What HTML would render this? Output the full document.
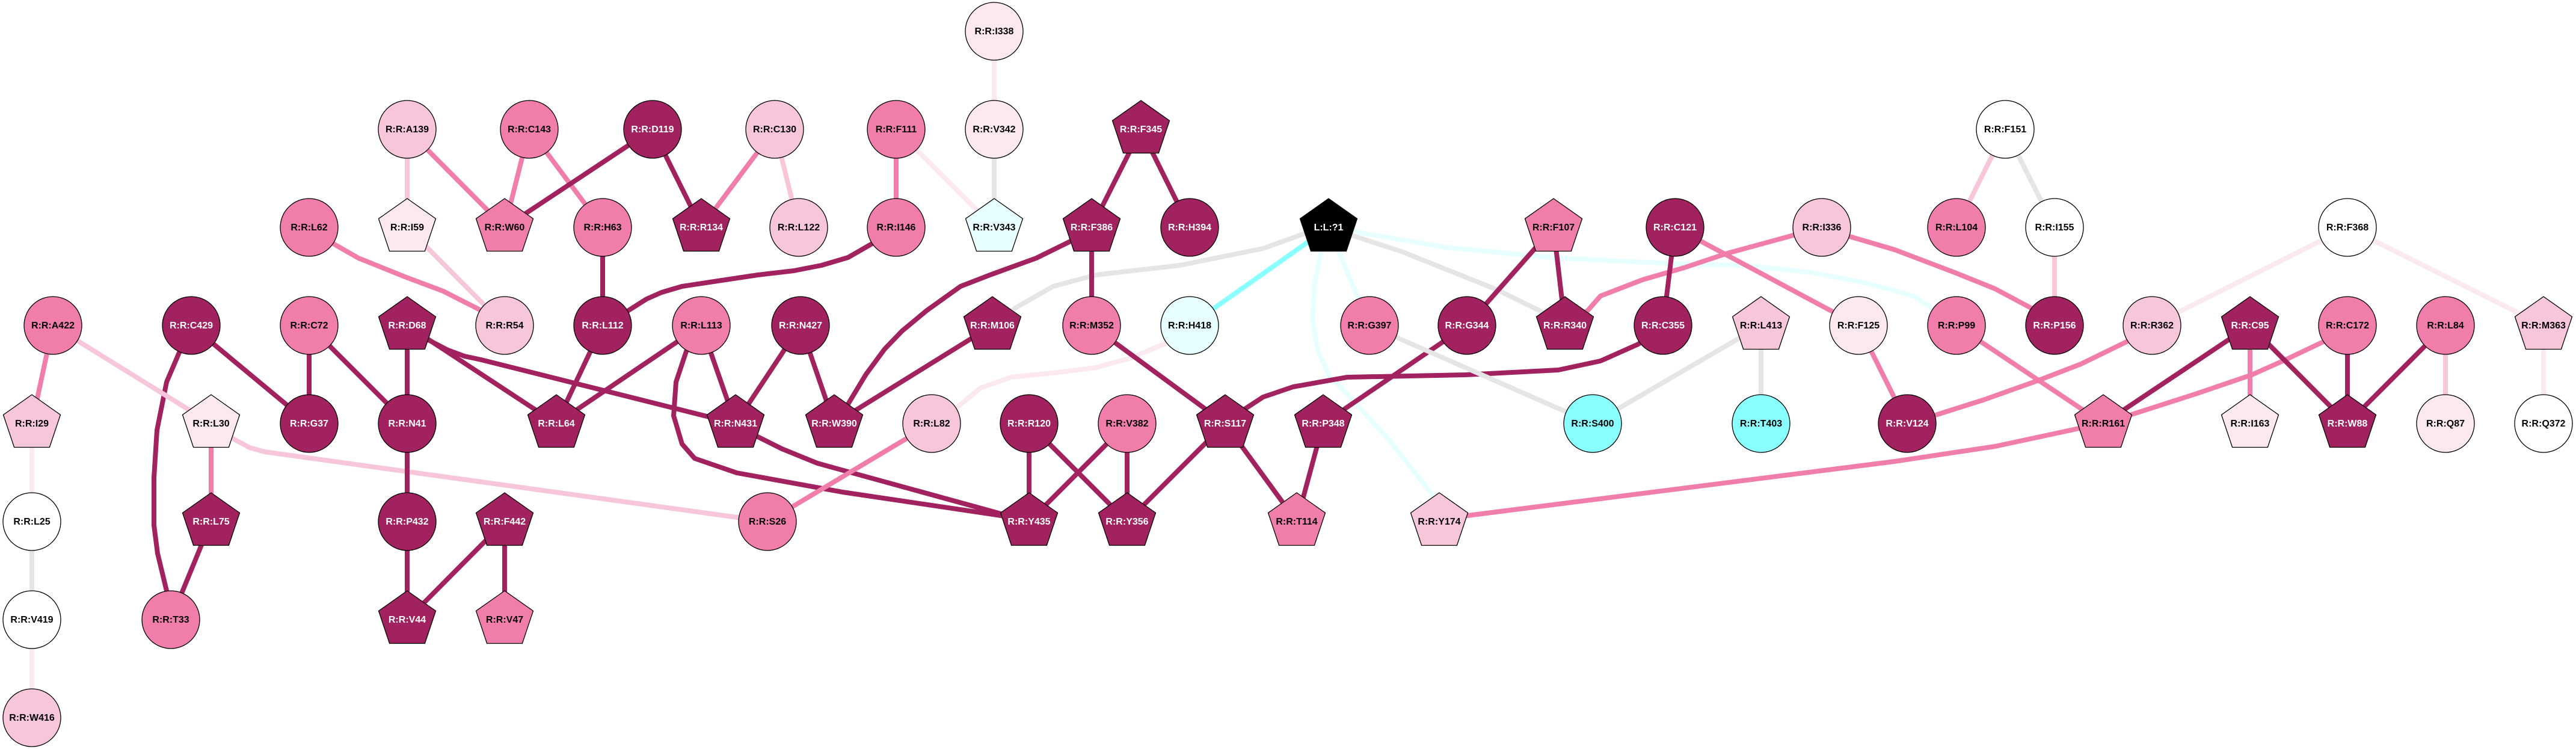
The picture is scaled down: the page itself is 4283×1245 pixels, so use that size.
<!DOCTYPE html>
<html><head><meta charset="utf-8">
<style>
html,body{margin:0;padding:0;background:#fff;}
svg{display:block;}
.D{fill:#A1225E}.M{fill:#F07DAA}.L{fill:#F8C6DB}.V{fill:#FCE8F1}.W{fill:#FFFFFF}.LC{fill:#E8FFFF}.C{fill:#89FFFF}.K{fill:#000}
circle,polygon{stroke:#000;stroke-width:1.3}
text{font-family:"Liberation Sans",Arial,sans-serif;font-weight:bold;font-size:16px;text-anchor:middle;fill:#000}
text.w{fill:#fff}
line,polyline{stroke-width:8;fill:none;stroke-linecap:butt;stroke-linejoin:round}
.eD{stroke:#A1225E}.eM{stroke:#F07DAA}.eL{stroke:#F8C6DB}.eV{stroke:#FCE8F1}.eG{stroke:#E5E5E5}.eC{stroke:#89FFFF}.eLC{stroke:#E8FFFF}
</style></head>
<body>
<svg width="4283" height="1245" viewBox="0 0 4283 1245" xmlns="http://www.w3.org/2000/svg">
<rect width="4283" height="1245" fill="#fff"/>
<g id="edges">
<polyline class="eLC" points="2209,378 2250,385 2410,412 2591,429 2800,439 2900,441 3012,453 3100,470 3150,483 3183,493 3213,513 3253,541"/>
<polyline class="eLC" points="2209,378 2196,420 2186,470 2182,530 2190,580 2210,625 2240,655 2310,732 2381,822 2393,867"/>
<line class="eLC" x1="2209" y1="378" x2="2277" y2="541"/>
<polyline class="eG" points="1650,541 1688,512 1751,476 1822,457 1962,441 2100,413 2167,389 2209,378"/>
<polyline class="eG" points="2209,378 2250,392 2330,418 2410,450 2490,482 2567,520 2602,541"/>
<polyline class="eV" points="1978,541 1935,572 1880,595 1822,611 1750,620 1681,627 1630,645 1594,675 1549,704"/>
<polyline class="eL" points="351,704 389,730 415,744 440,751 1276,867"/>
<polyline class="eD" points="318,541 298,586 277,635 261,715 256,794 256,873 262,920 270,953 277,982 284,1030"/>
<polyline class="eD" points="677,541 712,565 745,582 772,592 800,598 1223,704"/>
<polyline class="eM" points="514,378 554,405 596,429 673,460 737,484 796,514 839,541"/>
<polyline class="eD" points="1002,541 1045,516 1075,497 1100,486 1134,476 1200,466 1260,457 1320,450 1366,441 1410,428 1450,405 1490,378"/>
<polyline class="eD" points="1815,378 1780,401 1723,429 1646,457 1597,476 1541,516 1500,550 1471,580 1440,622 1408,675 1387,704"/>
<polyline class="eD" points="1166,541 1141,584 1124,635 1120,691 1134,738 1155,762 1225,786 1401,818 1664,857 1711,867"/>
<polyline class="eD" points="1223,704 1260,726 1300,746 1359,770 1664,854 1711,867"/>
<polyline class="eD" points="2037,704 2071,679 2100,660 2150,643 2240,627 2437,623 2591,615 2661,600 2724,572 2765,541"/>
<polyline class="eM" points="3029,378 2982,391 2872,421 2800,445 2731,465 2661,492 2640,516 2602,541"/>
<polyline class="eM" points="3029,378 3075,393 3150,415 3250,453 3317,480 3377,512 3416,541"/>
<polyline class="eM" points="3171,704 3218,690 3300,664 3390,632 3460,605 3538,567 3578,541"/>
<polyline class="eM" points="2393,867 2440,857 3150,767 3317,742 3457,712 3497,704"/>
<polyline class="eM" points="3903,541 3863,568 3800,598 3744,623 3650,655 3544,689 3497,704"/>
<line class="eM" x1="88" y1="541" x2="53" y2="704"/>
<line class="eL" x1="88" y1="541" x2="351" y2="704"/>
<line class="eV" x1="53" y1="704" x2="53" y2="867"/>
<line class="eG" x1="53" y1="867" x2="53" y2="1030"/>
<line class="eV" x1="53" y1="1030" x2="53" y2="1193"/>
<line class="eD" x1="318" y1="541" x2="514" y2="704"/>
<line class="eM" x1="351" y1="704" x2="351" y2="867"/>
<line class="eD" x1="351" y1="867" x2="284" y2="1030"/>
<line class="eD" x1="514" y1="541" x2="514" y2="704"/>
<line class="eD" x1="514" y1="541" x2="677" y2="704"/>
<line class="eD" x1="677" y1="541" x2="677" y2="704"/>
<line class="eD" x1="677" y1="541" x2="925" y2="704"/>
<line class="eD" x1="677" y1="704" x2="677" y2="867"/>
<line class="eD" x1="677" y1="867" x2="677" y2="1030"/>
<line class="eD" x1="839" y1="867" x2="677" y2="1030"/>
<line class="eD" x1="839" y1="867" x2="839" y2="1030"/>
<line class="eL" x1="677" y1="215" x2="677" y2="378"/>
<line class="eM" x1="677" y1="215" x2="839" y2="378"/>
<line class="eL" x1="677" y1="378" x2="839" y2="541"/>
<line class="eM" x1="880" y1="215" x2="839" y2="378"/>
<line class="eM" x1="880" y1="215" x2="1002" y2="378"/>
<line class="eD" x1="1085" y1="215" x2="839" y2="378"/>
<line class="eD" x1="1002" y1="378" x2="1002" y2="541"/>
<line class="eD" x1="1002" y1="541" x2="925" y2="704"/>
<line class="eD" x1="1166" y1="541" x2="925" y2="704"/>
<line class="eD" x1="1085" y1="215" x2="1166" y2="378"/>
<line class="eM" x1="1288" y1="215" x2="1166" y2="378"/>
<line class="eL" x1="1288" y1="215" x2="1328" y2="378"/>
<line class="eM" x1="1490" y1="215" x2="1490" y2="378"/>
<line class="eV" x1="1490" y1="215" x2="1653" y2="378"/>
<line class="eV" x1="1653" y1="52" x2="1653" y2="215"/>
<line class="eG" x1="1653" y1="215" x2="1653" y2="378"/>
<line class="eD" x1="1897" y1="215" x2="1815" y2="378"/>
<line class="eD" x1="1897" y1="215" x2="1978" y2="378"/>
<line class="eD" x1="1815" y1="378" x2="1815" y2="541"/>
<line class="eD" x1="1166" y1="541" x2="1223" y2="704"/>
<line class="eD" x1="1331" y1="541" x2="1223" y2="704"/>
<line class="eD" x1="1331" y1="541" x2="1387" y2="704"/>
<line class="eD" x1="1650" y1="541" x2="1387" y2="704"/>
<line class="eC" x1="1978" y1="541" x2="2209" y2="378"/>
<line class="eD" x1="1815" y1="541" x2="2037" y2="704"/>
<line class="eM" x1="1549" y1="704" x2="1276" y2="867"/>
<line class="eD" x1="1711" y1="704" x2="1711" y2="867"/>
<line class="eD" x1="1711" y1="704" x2="1874" y2="867"/>
<line class="eD" x1="1874" y1="704" x2="1711" y2="867"/>
<line class="eD" x1="1874" y1="704" x2="1874" y2="867"/>
<line class="eD" x1="2037" y1="704" x2="1874" y2="867"/>
<line class="eD" x1="2037" y1="704" x2="2156" y2="867"/>
<line class="eD" x1="2439" y1="541" x2="2200" y2="704"/>
<line class="eD" x1="2583" y1="378" x2="2439" y2="541"/>
<line class="eD" x1="2583" y1="378" x2="2602" y2="541"/>
<line class="eD" x1="2200" y1="704" x2="2156" y2="867"/>
<line class="eG" x1="2277" y1="541" x2="2648" y2="704"/>
<line class="eG" x1="2928" y1="541" x2="2648" y2="704"/>
<line class="eG" x1="2928" y1="541" x2="2928" y2="704"/>
<line class="eD" x1="2785" y1="378" x2="2765" y2="541"/>
<line class="eM" x1="2785" y1="378" x2="3090" y2="541"/>
<line class="eM" x1="3090" y1="541" x2="3171" y2="704"/>
<line class="eM" x1="3253" y1="541" x2="3497" y2="704"/>
<line class="eD" x1="3741" y1="541" x2="3497" y2="704"/>
<line class="eM" x1="3741" y1="541" x2="3741" y2="704"/>
<line class="eD" x1="3741" y1="541" x2="3903" y2="704"/>
<line class="eD" x1="3903" y1="541" x2="3903" y2="704"/>
<line class="eD" x1="4066" y1="541" x2="3903" y2="704"/>
<line class="eL" x1="4066" y1="541" x2="4066" y2="704"/>
<line class="eV" x1="4229" y1="541" x2="4229" y2="704"/>
<line class="eV" x1="3903" y1="378" x2="3578" y2="541"/>
<line class="eV" x1="3903" y1="378" x2="4229" y2="541"/>
<line class="eL" x1="3334" y1="215" x2="3253" y2="378"/>
<line class="eG" x1="3334" y1="215" x2="3416" y2="378"/>
<line class="eL" x1="3416" y1="378" x2="3416" y2="541"/>
</g>
<g id="nodes">
<circle class="V" cx="1653" cy="52" r="48"/><text x="1653" y="57">R:R:I338</text>
<circle class="L" cx="677" cy="215" r="48"/><text x="677" y="220">R:R:A139</text>
<circle class="M" cx="880" cy="215" r="48"/><text x="880" y="220">R:R:C143</text>
<circle class="D" cx="1085" cy="215" r="48"/><text class="w" x="1085" y="220">R:R:D119</text>
<circle class="L" cx="1288" cy="215" r="48"/><text x="1288" y="220">R:R:C130</text>
<circle class="M" cx="1490" cy="215" r="48"/><text x="1490" y="220">R:R:F111</text>
<circle class="V" cx="1653" cy="215" r="48"/><text x="1653" y="220">R:R:V342</text>
<polygon class="D" transform="translate(1897,215)" points="0,-48 47.5,-14.5 29.4,39.5 -29.4,39.5 -47.5,-14.5"/><text class="w" x="1897" y="220">R:R:F345</text>
<circle class="W" cx="3334" cy="215" r="48"/><text x="3334" y="220">R:R:F151</text>
<circle class="M" cx="514" cy="378" r="48"/><text x="514" y="383">R:R:L62</text>
<polygon class="V" transform="translate(677,378)" points="0,-48 47.5,-14.5 29.4,39.5 -29.4,39.5 -47.5,-14.5"/><text x="677" y="383">R:R:I59</text>
<polygon class="M" transform="translate(839,378)" points="0,-48 47.5,-14.5 29.4,39.5 -29.4,39.5 -47.5,-14.5"/><text x="839" y="383">R:R:W60</text>
<circle class="M" cx="1002" cy="378" r="48"/><text x="1002" y="383">R:R:H63</text>
<polygon class="D" transform="translate(1166,378)" points="0,-48 47.5,-14.5 29.4,39.5 -29.4,39.5 -47.5,-14.5"/><text class="w" x="1166" y="383">R:R:R134</text>
<circle class="L" cx="1328" cy="378" r="48"/><text x="1328" y="383">R:R:L122</text>
<circle class="M" cx="1490" cy="378" r="48"/><text x="1490" y="383">R:R:I146</text>
<polygon class="LC" transform="translate(1653,378)" points="0,-48 47.5,-14.5 29.4,39.5 -29.4,39.5 -47.5,-14.5"/><text x="1653" y="383">R:R:V343</text>
<polygon class="D" transform="translate(1815,378)" points="0,-48 47.5,-14.5 29.4,39.5 -29.4,39.5 -47.5,-14.5"/><text class="w" x="1815" y="383">R:R:F386</text>
<circle class="D" cx="1978" cy="378" r="48"/><text class="w" x="1978" y="383">R:R:H394</text>
<polygon class="K" transform="translate(2209,378)" points="0,-48 47.5,-14.5 29.4,39.5 -29.4,39.5 -47.5,-14.5"/><text class="w" x="2209" y="383">L:L:?1</text>
<polygon class="M" transform="translate(2583,378)" points="0,-48 47.5,-14.5 29.4,39.5 -29.4,39.5 -47.5,-14.5"/><text x="2583" y="383">R:R:F107</text>
<circle class="D" cx="2785" cy="378" r="48"/><text class="w" x="2785" y="383">R:R:C121</text>
<circle class="L" cx="3029" cy="378" r="48"/><text x="3029" y="383">R:R:I336</text>
<circle class="M" cx="3253" cy="378" r="48"/><text x="3253" y="383">R:R:L104</text>
<circle class="W" cx="3416" cy="378" r="48"/><text x="3416" y="383">R:R:I155</text>
<circle class="W" cx="3903" cy="378" r="48"/><text x="3903" y="383">R:R:F368</text>
<circle class="M" cx="88" cy="541" r="48"/><text x="88" y="546">R:R:A422</text>
<circle class="D" cx="318" cy="541" r="48"/><text class="w" x="318" y="546">R:R:C429</text>
<circle class="M" cx="514" cy="541" r="48"/><text x="514" y="546">R:R:C72</text>
<polygon class="D" transform="translate(677,541)" points="0,-48 47.5,-14.5 29.4,39.5 -29.4,39.5 -47.5,-14.5"/><text class="w" x="677" y="546">R:R:D68</text>
<circle class="L" cx="839" cy="541" r="48"/><text x="839" y="546">R:R:R54</text>
<circle class="D" cx="1002" cy="541" r="48"/><text class="w" x="1002" y="546">R:R:L112</text>
<circle class="M" cx="1166" cy="541" r="48"/><text x="1166" y="546">R:R:L113</text>
<circle class="D" cx="1331" cy="541" r="48"/><text class="w" x="1331" y="546">R:R:N427</text>
<polygon class="D" transform="translate(1650,541)" points="0,-48 47.5,-14.5 29.4,39.5 -29.4,39.5 -47.5,-14.5"/><text class="w" x="1650" y="546">R:R:M106</text>
<circle class="M" cx="1815" cy="541" r="48"/><text x="1815" y="546">R:R:M352</text>
<circle class="LC" cx="1978" cy="541" r="48"/><text x="1978" y="546">R:R:H418</text>
<circle class="M" cx="2277" cy="541" r="48"/><text x="2277" y="546">R:R:G397</text>
<circle class="D" cx="2439" cy="541" r="48"/><text class="w" x="2439" y="546">R:R:G344</text>
<polygon class="D" transform="translate(2602,541)" points="0,-48 47.5,-14.5 29.4,39.5 -29.4,39.5 -47.5,-14.5"/><text class="w" x="2602" y="546">R:R:R340</text>
<circle class="D" cx="2765" cy="541" r="48"/><text class="w" x="2765" y="546">R:R:C355</text>
<polygon class="L" transform="translate(2928,541)" points="0,-48 47.5,-14.5 29.4,39.5 -29.4,39.5 -47.5,-14.5"/><text x="2928" y="546">R:R:L413</text>
<circle class="V" cx="3090" cy="541" r="48"/><text x="3090" y="546">R:R:F125</text>
<circle class="M" cx="3253" cy="541" r="48"/><text x="3253" y="546">R:R:P99</text>
<circle class="D" cx="3416" cy="541" r="48"/><text class="w" x="3416" y="546">R:R:P156</text>
<circle class="L" cx="3578" cy="541" r="48"/><text x="3578" y="546">R:R:R362</text>
<polygon class="D" transform="translate(3741,541)" points="0,-48 47.5,-14.5 29.4,39.5 -29.4,39.5 -47.5,-14.5"/><text class="w" x="3741" y="546">R:R:C95</text>
<circle class="M" cx="3903" cy="541" r="48"/><text x="3903" y="546">R:R:C172</text>
<circle class="M" cx="4066" cy="541" r="48"/><text x="4066" y="546">R:R:L84</text>
<polygon class="L" transform="translate(4229,541)" points="0,-48 47.5,-14.5 29.4,39.5 -29.4,39.5 -47.5,-14.5"/><text x="4229" y="546">R:R:M363</text>
<polygon class="L" transform="translate(53,704)" points="0,-48 47.5,-14.5 29.4,39.5 -29.4,39.5 -47.5,-14.5"/><text x="53" y="709">R:R:I29</text>
<polygon class="V" transform="translate(351,704)" points="0,-48 47.5,-14.5 29.4,39.5 -29.4,39.5 -47.5,-14.5"/><text x="351" y="709">R:R:L30</text>
<circle class="D" cx="514" cy="704" r="48"/><text class="w" x="514" y="709">R:R:G37</text>
<circle class="D" cx="677" cy="704" r="48"/><text class="w" x="677" y="709">R:R:N41</text>
<polygon class="D" transform="translate(925,704)" points="0,-48 47.5,-14.5 29.4,39.5 -29.4,39.5 -47.5,-14.5"/><text class="w" x="925" y="709">R:R:L64</text>
<polygon class="D" transform="translate(1223,704)" points="0,-48 47.5,-14.5 29.4,39.5 -29.4,39.5 -47.5,-14.5"/><text class="w" x="1223" y="709">R:R:N431</text>
<polygon class="D" transform="translate(1387,704)" points="0,-48 47.5,-14.5 29.4,39.5 -29.4,39.5 -47.5,-14.5"/><text class="w" x="1387" y="709">R:R:W390</text>
<circle class="L" cx="1549" cy="704" r="48"/><text x="1549" y="709">R:R:L82</text>
<circle class="D" cx="1711" cy="704" r="48"/><text class="w" x="1711" y="709">R:R:R120</text>
<circle class="M" cx="1874" cy="704" r="48"/><text x="1874" y="709">R:R:V382</text>
<polygon class="D" transform="translate(2037,704)" points="0,-48 47.5,-14.5 29.4,39.5 -29.4,39.5 -47.5,-14.5"/><text class="w" x="2037" y="709">R:R:S117</text>
<polygon class="D" transform="translate(2200,704)" points="0,-48 47.5,-14.5 29.4,39.5 -29.4,39.5 -47.5,-14.5"/><text class="w" x="2200" y="709">R:R:P348</text>
<circle class="C" cx="2648" cy="704" r="48"/><text x="2648" y="709">R:R:S400</text>
<circle class="C" cx="2928" cy="704" r="48"/><text x="2928" y="709">R:R:T403</text>
<circle class="D" cx="3171" cy="704" r="48"/><text class="w" x="3171" y="709">R:R:V124</text>
<polygon class="M" transform="translate(3497,704)" points="0,-48 47.5,-14.5 29.4,39.5 -29.4,39.5 -47.5,-14.5"/><text x="3497" y="709">R:R:R161</text>
<polygon class="V" transform="translate(3741,704)" points="0,-48 47.5,-14.5 29.4,39.5 -29.4,39.5 -47.5,-14.5"/><text x="3741" y="709">R:R:I163</text>
<polygon class="D" transform="translate(3903,704)" points="0,-48 47.5,-14.5 29.4,39.5 -29.4,39.5 -47.5,-14.5"/><text class="w" x="3903" y="709">R:R:W88</text>
<circle class="V" cx="4066" cy="704" r="48"/><text x="4066" y="709">R:R:Q87</text>
<circle class="W" cx="4229" cy="704" r="48"/><text x="4229" y="709">R:R:Q372</text>
<circle class="W" cx="53" cy="867" r="48"/><text x="53" y="872">R:R:L25</text>
<polygon class="D" transform="translate(351,867)" points="0,-48 47.5,-14.5 29.4,39.5 -29.4,39.5 -47.5,-14.5"/><text class="w" x="351" y="872">R:R:L75</text>
<circle class="D" cx="677" cy="867" r="48"/><text class="w" x="677" y="872">R:R:P432</text>
<polygon class="D" transform="translate(839,867)" points="0,-48 47.5,-14.5 29.4,39.5 -29.4,39.5 -47.5,-14.5"/><text class="w" x="839" y="872">R:R:F442</text>
<circle class="M" cx="1276" cy="867" r="48"/><text x="1276" y="872">R:R:S26</text>
<polygon class="D" transform="translate(1711,867)" points="0,-48 47.5,-14.5 29.4,39.5 -29.4,39.5 -47.5,-14.5"/><text class="w" x="1711" y="872">R:R:Y435</text>
<polygon class="D" transform="translate(1874,867)" points="0,-48 47.5,-14.5 29.4,39.5 -29.4,39.5 -47.5,-14.5"/><text class="w" x="1874" y="872">R:R:Y356</text>
<polygon class="M" transform="translate(2156,867)" points="0,-48 47.5,-14.5 29.4,39.5 -29.4,39.5 -47.5,-14.5"/><text x="2156" y="872">R:R:T114</text>
<polygon class="L" transform="translate(2393,867)" points="0,-48 47.5,-14.5 29.4,39.5 -29.4,39.5 -47.5,-14.5"/><text x="2393" y="872">R:R:Y174</text>
<circle class="W" cx="53" cy="1030" r="48"/><text x="53" y="1035">R:R:V419</text>
<circle class="M" cx="284" cy="1030" r="48"/><text x="284" y="1035">R:R:T33</text>
<polygon class="D" transform="translate(677,1030)" points="0,-48 47.5,-14.5 29.4,39.5 -29.4,39.5 -47.5,-14.5"/><text class="w" x="677" y="1035">R:R:V44</text>
<polygon class="M" transform="translate(839,1030)" points="0,-48 47.5,-14.5 29.4,39.5 -29.4,39.5 -47.5,-14.5"/><text x="839" y="1035">R:R:V47</text>
<circle class="L" cx="53" cy="1193" r="48"/><text x="53" y="1198">R:R:W416</text>
</g>
</svg>
</body></html>
